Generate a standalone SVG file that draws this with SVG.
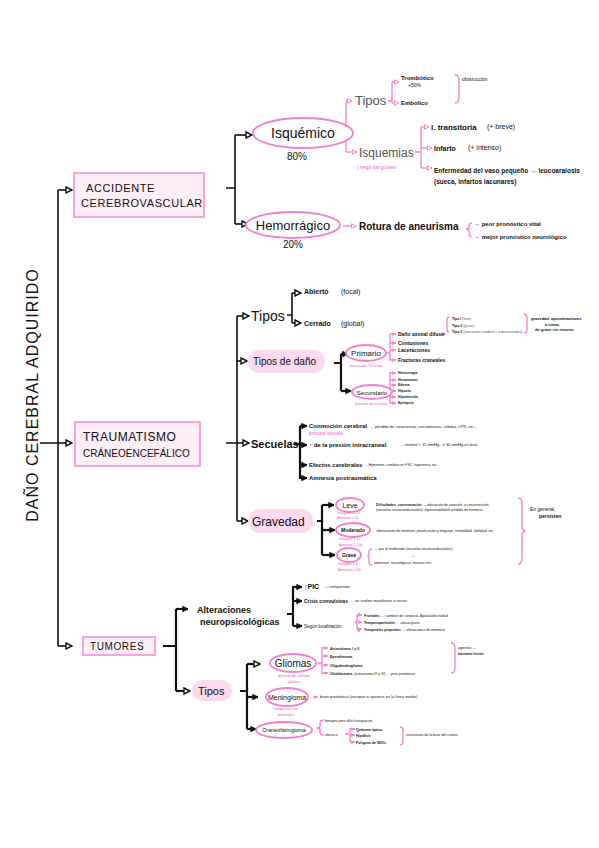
<svg xmlns="http://www.w3.org/2000/svg" width="599" height="848" viewBox="0 0 599 848">
<defs>
<marker id="ab" viewBox="0 0 8 8" refX="7" refY="4" markerWidth="8" markerHeight="8" markerUnits="userSpaceOnUse" orient="auto">
<path d="M1,1 L7,4 L1,7 z" fill="#fff" stroke="#111" stroke-width="1.4"/>
</marker>
<marker id="abf" viewBox="0 0 8 8" refX="7" refY="4" markerWidth="7" markerHeight="7" markerUnits="userSpaceOnUse" orient="auto">
<path d="M1,1 L7,4 L1,7 z" fill="#111" stroke="#111" stroke-width="1"/>
</marker>
<marker id="ap" viewBox="0 0 8 8" refX="7" refY="4" markerWidth="6" markerHeight="6" markerUnits="userSpaceOnUse" orient="auto">
<path d="M1,1 L7,4 L1,7 z" fill="#fff" stroke="#f57fcf" stroke-width="1.3"/>
</marker>
<marker id="apf" viewBox="0 0 8 8" refX="7" refY="4" markerWidth="5" markerHeight="5" markerUnits="userSpaceOnUse" orient="auto">
<path d="M1,1 L7,4 L1,7 z" fill="#f57fcf"/>
</marker>
</defs>
<style>
text{font-family:"Liberation Sans",Arial,sans-serif;fill:#111}
.box{fill:#fdeef8;stroke:#f7a6dc;stroke-width:2}
.pill{fill:#fcd9ee;stroke:none}
.ell{fill:#fff;stroke:#f57fcf;stroke-width:1.8}
.bl{fill:none;stroke:#111;stroke-width:1.6}
.bk{fill:none;stroke:#111;stroke-width:2.2}
.pk{fill:none;stroke:#f57fcf;stroke-width:1.3}
.up{font-size:11px;letter-spacing:0.6px}
.gray{fill:#555}
.pt{fill:#f057c0}
.s4{font-size:4px}
.s5{font-size:5px}
.s6{font-size:6px}
.s7{font-size:7px}
.b{font-weight:bold}
</style>

<!-- title -->
<g id="title">
<text transform="translate(38,395) rotate(-90)" text-anchor="middle" font-size="16" letter-spacing="1" fill="#222" style="font-weight:300">DAÑO CEREBRAL  ADQUIRIDO</text>
</g>

<g id="connectors">
<!-- trunk -->
<path class="bl" d="M40,443 H58 M58,190 V646"/>
<path class="bl" d="M58,190 H72" marker-end="url(#ab)"/>
<path class="bl" d="M58,443 H72" marker-end="url(#ab)"/>
<path class="bl" d="M58,646 H72" marker-end="url(#ab)"/>
<!-- ACV -->
<path class="bl" d="M226,188 H235 M235,135 V224"/>
<path class="bl" d="M235,135 H252" marker-end="url(#ab)"/>
<path class="bl" d="M235,224 H248" marker-end="url(#ab)"/>
<path class="pk" d="M340,134 H346 M346,101 V152"/>
<path class="pk" d="M346,101 H352" marker-end="url(#ap)"/>
<path class="pk" d="M346,152 H357" marker-end="url(#ap)"/>
<path class="pk" d="M388,101 H392 M392,82 V103"/>
<path class="pk" d="M392,82 H399" marker-end="url(#ap)"/>
<path class="pk" d="M392,103 H399" marker-end="url(#ap)"/>
<path class="pk" d="M455,75 Q459,75 459,80 V97 Q459,103 455,103"/>
<path class="pk" d="M415,152 H420 M421,127 V168"/>
<path class="pk" d="M421,127 H429" marker-end="url(#ap)"/>
<path class="pk" d="M421,148 H432" marker-end="url(#ap)"/>
<path class="pk" d="M421,168 H432" marker-end="url(#ap)"/>
<path class="pk" d="M343,226 H356" marker-end="url(#ap)"/>
<path class="pk" d="M472,223 Q469,223 469,227 Q469,229 466,229 Q469,229 469,232 Q469,236 472,237"/>
<!-- TCE -->
<path class="bl" d="M226,443 H237 M237,316 V521"/>
<path class="bl" d="M237,316 H249" marker-end="url(#ab)"/>
<path class="bl" d="M237,361 H247" marker-end="url(#ab)"/>
<path class="bl" d="M237,443 H249" marker-end="url(#ab)"/>
<path class="bl" d="M237,521 H248" marker-end="url(#ab)"/>
<path class="bl" d="M287,315 H292 M292,293 V323"/>
<path class="bl" d="M292,293 H301" marker-end="url(#ab)"/>
<path class="bl" d="M292,323 H301" marker-end="url(#ab)"/>
<path class="bk" d="M334,363 H341 M341,354 V391"/>
<path class="bk" d="M341,354 H348" marker-end="url(#abf)"/>
<path class="bk" d="M341,391 H351" marker-end="url(#abf)"/>
<path class="pk" d="M386,353 H390 M390,334 V361"/>
<path class="pk" d="M390,334 H396" marker-end="url(#apf)"/>
<path class="pk" d="M390,343 H396" marker-end="url(#apf)"/>
<path class="pk" d="M390,350 H396" marker-end="url(#apf)"/>
<path class="pk" d="M390,360 H396" marker-end="url(#apf)"/>
<path class="pk" d="M441,334 H446" marker-end="url(#apf)"/>
<path class="pk" d="M449,317 Q447,317 447,320 V329 Q447,332 449,332"/>
<path class="pk" d="M524,314 Q527,314 527,318 V329 Q527,333 524,333"/>
<path class="pk" d="M392,392 H390 M390,372 V404"/>
<path class="pk" d="M390,373 H396" marker-end="url(#apf)"/>
<path class="pk" d="M390,380 H396" marker-end="url(#apf)"/>
<path class="pk" d="M390,385 H396" marker-end="url(#apf)"/>
<path class="pk" d="M390,391 H396" marker-end="url(#apf)"/>
<path class="pk" d="M390,397 H396" marker-end="url(#apf)"/>
<path class="pk" d="M390,403 H396" marker-end="url(#apf)"/>
<path class="bk" d="M294,444 H300 M300,426 V479"/>
<path class="bk" d="M300,426 H307" marker-end="url(#abf)"/>
<path class="bk" d="M300,445 H307" marker-end="url(#abf)"/>
<path class="bk" d="M300,465 H307" marker-end="url(#abf)"/>
<path class="bk" d="M300,478 H307" marker-end="url(#abf)"/>
<path class="bk" d="M317,521 H322 M322,505 V555"/>
<path class="bk" d="M322,505 H334" marker-end="url(#abf)"/>
<path class="bk" d="M322,530 H335" marker-end="url(#abf)"/>
<path class="bk" d="M322,555 H335" marker-end="url(#abf)"/>
<path class="pk" d="M372,549 Q369,549 369,552 V555 Q369,556 367,556 Q369,556 369,558 V562 Q369,565 372,565"/>
<path class="pk" d="M518,498 Q522,498 522,504 V527 Q522,530 525,531 Q522,532 522,535 V558 Q522,564 518,564"/>
<!-- Tumores -->
<path class="bk" d="M163,646 H176 M176,609 V691"/>
<path class="bk" d="M176,609 H188" marker-end="url(#abf)"/>
<path class="bk" d="M176,691 H190" marker-end="url(#ab)"/>
<path class="bk" d="M287,614 H293 M293,586 V626"/>
<path class="bk" d="M293,587 H302" marker-end="url(#abf)"/>
<path class="bk" d="M293,601 H302" marker-end="url(#abf)"/>
<path class="bk" d="M293,626 H302" marker-end="url(#abf)"/>
<path class="pk" d="M360,614 Q357,614 357,617 V620 Q357,622 355,622 Q357,622 357,624 V628 Q357,631 360,631"/>
<path class="pk" d="M358,615 H362" marker-end="url(#apf)"/>
<path class="pk" d="M358,622 H362" marker-end="url(#apf)"/>
<path class="pk" d="M358,629 H362" marker-end="url(#apf)"/>
<path class="bk" d="M240,691 H247 M247,664 V729"/>
<path class="bk" d="M247,664 H260" marker-end="url(#ab)"/>
<path class="bk" d="M247,697 H258" marker-end="url(#abf)"/>
<path class="bk" d="M247,729 H256" marker-end="url(#abf)"/>
<path class="pk" d="M318,663 H322 M322,647 V674"/>
<path class="pk" d="M322,648 H328" marker-end="url(#apf)"/>
<path class="pk" d="M322,656 H328" marker-end="url(#apf)"/>
<path class="pk" d="M322,665 H328" marker-end="url(#apf)"/>
<path class="pk" d="M322,673 H328" marker-end="url(#apf)"/>
<path class="pk" d="M451,643 Q455,643 455,648 V668 Q455,673 451,673"/>
<path class="pk" d="M313,697 H318" marker-end="url(#apf)"/>
<path class="pk" d="M324,720 Q320,720 320,723 V726 Q320,728 317,728 Q320,728 320,730 V732 Q320,735 324,735"/>
<path class="pk" d="M345,734 H349 M350,728 V742"/>
<path class="pk" d="M350,729 H355" marker-end="url(#apf)"/>
<path class="pk" d="M350,735 H355" marker-end="url(#apf)"/>
<path class="pk" d="M350,742 H355" marker-end="url(#apf)"/>
<path class="pk" d="M400,727 Q403,727 403,731 V741 Q403,745 400,745"/>
</g>

<!-- ACV -->
<g id="acv">
<rect class="box" x="74" y="173" width="130" height="44"/>
<text x="86" y="192" class="up">ACCIDENTE</text>
<text x="81" y="207" class="up" letter-spacing="0">CEREBROVASCULAR</text>
</g>
<g id="isquemico">
<ellipse class="ell" cx="303" cy="133" rx="50" ry="15"/>
<text x="303" y="138" font-size="14" text-anchor="middle">Isquémico</text>
<text x="297" y="160" font-size="10" text-anchor="middle" fill="#333">80%</text>
</g>
<g id="hemorragico">
<ellipse class="ell" cx="293" cy="225" rx="47" ry="13"/>
<text x="293" y="230" font-size="13" text-anchor="middle">Hemorrágico</text>
<text x="293" y="248" font-size="10" text-anchor="middle" fill="#333">20%</text>
</g>
<g id="tipos-acv">
<text x="355" y="105" font-size="13" class="gray">Tipos</text>
<text x="401" y="80" class="s6 b">Trombótico</text>
<text x="408" y="87" class="s5">+50%</text>
<text x="401" y="105" class="s6 b">Embólico</text>
<text x="462" y="81" class="s5">obstrucción</text>
</g>
<g id="isquemias">
<text x="359" y="157" font-size="12" class="gray">Isquemias</text>
<text x="357" y="169" class="s5 pt">{ riego sanguíneo</text>
<text x="431" y="130" font-size="8" class="b">I. transitoria</text>
<text x="487" y="129" font-size="7" fill="#444">(+ breve)</text>
<text x="434" y="151" font-size="7" class="b">Infarto</text>
<text x="468" y="150" font-size="7" fill="#444">(+ intenso)</text>
<text x="434" y="173" font-size="6.5" class="b">Enfermedad del vaso pequeño → leucoaraiosis</text>
<text x="434" y="184" font-size="6.5" class="b">(sueca, infartos lacunares)</text>
</g>
<g id="rotura">
<text x="359" y="230" font-size="10" class="b">Rotura de aneurisma</text>
<text x="474" y="226" class="s6 b">→ peor pronóstico vital</text>
<text x="474" y="239" class="s6 b">→ mejor pronóstico neurológico</text>
</g>

<!-- TCE -->
<g id="tce">
<rect class="box" x="75" y="422" width="125" height="44"/>
<text x="83" y="441" font-size="12" letter-spacing="0.5">TRAUMATISMO</text>
<text x="83" y="457" font-size="10">CRÁNEOENCEFÁLICO</text>
</g>
<g id="tipos-tce">
<text x="251" y="321" font-size="14">Tipos</text>
<text x="304" y="294" font-size="7" class="b">Abierto</text>
<text x="341" y="294" font-size="7" fill="#444">(focal)</text>
<text x="304" y="326" font-size="7" class="b">Cerrado</text>
<text x="341" y="326" font-size="7" fill="#444">(global)</text>
</g>
<g id="tipos-dano">
<rect class="pill" x="248" y="350" width="77" height="23" rx="11.5"/>
<text x="253" y="365" font-size="10">Tipos de daño</text>
</g>
<g id="primario">
<ellipse class="ell" cx="366" cy="353" rx="20" ry="8"/>
<text x="366" y="356" font-size="8" text-anchor="middle">Primario</text>
<text x="350" y="367" font-size="3.5" class="pt">provocado x la lesión</text>
<text x="398" y="336" class="s5 b">Daño axonal difuso</text>
<text x="398" y="345" class="s5 b">Contusiones</text>
<text x="398" y="352" class="s5 b">Laceraciones</text>
<text x="398" y="362" class="s5 b">Fracturas craneales</text>
<text x="452" y="320" font-size="3.5" class="b">Tipo I <tspan fill="#555" style="font-weight:normal">(leve)</tspan></text>
<text x="452" y="327" font-size="3.5" class="b">Tipo 2 <tspan fill="#555" style="font-weight:normal">(grave)</tspan></text>
<text x="452" y="333" font-size="3.5" class="b">Tipo 3 <tspan fill="#555" style="font-weight:normal">(laceración cerebral + subaracnoidea)</tspan></text>
<text x="531" y="320" font-size="4" class="b">gravedad, aproximaciones</text>
<text x="545" y="326" font-size="4" class="b">a coma,</text>
<text x="535" y="331" font-size="4" class="b">de grave sin retorno.</text>
</g>
<g id="secundario">
<ellipse class="ell" cx="372" cy="392" rx="20" ry="7"/>
<text x="372" y="395" font-size="6" text-anchor="middle">Secundario</text>
<text x="355" y="405" font-size="3.5" class="pt">derivado de la lesión</text>
<text x="398" y="374" font-size="3.5" class="b">Hemorragia</text>
<text x="398" y="381" font-size="3.5" class="b">Hematomas</text>
<text x="398" y="386" font-size="3.5" class="b">Edema</text>
<text x="398" y="392" font-size="3.5" class="b">Hipoxia</text>
<text x="398" y="398" font-size="3.5" class="b">Hipotensión</text>
<text x="398" y="404" font-size="3.5" class="b">Epilepsia</text>
</g>
<g id="secuelas">
<text x="251" y="448" font-size="11" class="b">Secuelas</text>
<text x="309" y="428" font-size="6" class="b">Conmoción cerebral</text>
<text x="370" y="428" class="s4"><tspan class="pt">→</tspan> pérdida de consciencia, con amnesia, cefalea, LPR, etc...</text>
<text x="309" y="435" font-size="4.5" class="pt">principal secuela</text>
<text x="309" y="447" font-size="6" class="b">↑ de la presión intracraneal</text>
<text x="400" y="446" class="s4"><tspan class="pt">→</tspan> normal &lt; 15 mmHg , ≥ 40 mmHg es letal.</text>
<text x="309" y="467" font-size="6" class="b">Efectos cerebrales</text>
<text x="364" y="466" font-size="3.5"><tspan class="pt">→</tspan> Hiperemia, cambios en FSC, hipoxemia, etc.</text>
<text x="309" y="480" font-size="6" class="b">Amnesia postraumática</text>
</g>
<g id="gravedad">
<rect class="pill" x="248" y="509" width="65" height="24" rx="12"/>
<text x="252" y="526" font-size="12">Gravedad</text>
</g>
<g id="leve">
<ellipse class="ell" cx="350" cy="505" rx="14" ry="7"/>
<text x="350" y="508" font-size="7" text-anchor="middle">Leve</text>
<text x="337" y="514" font-size="3.5" class="pt">Glasgow 13-15</text>
<text x="337" y="519" font-size="3.5" class="pt">Amnesia &lt; 1h</text>
<text x="376" y="506" font-size="3.5"><tspan class="b">Dificultades, concentración</tspan> → afectación de atención, y concentración</text>
<text x="376" y="511" font-size="3.5">(secuelas neuroconductuales)  ,hiperirritabilidad, pérdida de memoria.</text>
</g>
<g id="moderado">
<ellipse class="ell" cx="353" cy="530" rx="17" ry="7"/>
<text x="353" y="532" font-size="5" text-anchor="middle" class="b">Moderado</text>
<text x="339" y="540" font-size="3.5" class="pt">Glasgow 9-12</text>
<text x="339" y="546" font-size="3.5" class="pt">Amnesia 1-24h</text>
<text x="372" y="532" font-size="3.5"><tspan class="pt">→</tspan> alteraciones de memoria, planificación y lenguaje, irritabilidad, labilidad, etc.</text>
</g>
<g id="grave">
<ellipse class="ell" cx="349" cy="555" rx="12" ry="7"/>
<text x="349" y="557" font-size="5" text-anchor="middle" class="b">Grave</text>
<text x="338" y="565" font-size="3.5" class="pt">Glasgow 3-8</text>
<text x="338" y="571" font-size="3.5" class="pt">Amnesia ≥ 24h</text>
<text x="374" y="550" font-size="3.5">→ que el moderado (secuelas neuroconductuales)</text>
<text x="412" y="557" font-size="4">+</text>
<text x="374" y="564" font-size="3.5">amnesias, neurológicas, mareos, etc.</text>
<text x="530" y="511" font-size="5">En general,</text>
<text x="539" y="518" font-size="5" class="b">persisten</text>
</g>

<!-- Tumores -->
<g id="tumores">
<rect class="box" x="83" y="637" width="72" height="18"/>
<text x="90" y="650" font-size="10" letter-spacing="0.6">TUMORES</text>
</g>
<g id="alteraciones">
<text x="197" y="613" font-size="9" class="b">Alteraciones</text>
<text x="200" y="625" font-size="9" class="b">neuropsicológicas</text>
<text x="304" y="589" font-size="7" class="b">↑PIC</text>
<text x="324" y="588" class="s4">→ compresión</text>
<text x="304" y="603" font-size="5" class="b">Crisis convulsivas</text>
<text x="350" y="602" class="s4"><tspan class="pt">→</tspan> se suelen manifestar a veces</text>
<text x="304" y="628" font-size="4.5" fill="#444">Según localización</text>
<text x="364" y="617" font-size="3.5"><tspan class="b">Frontales</tspan> <tspan class="pt">→</tspan> cambios de conducta, Apatía/afectividad</text>
<text x="364" y="624" font-size="3.5"><tspan class="b">Temporoparietales</tspan> <tspan class="pt">→</tspan> afasia grave</text>
<text x="364" y="631" font-size="3.5"><tspan class="b">Temporales pequeños</tspan> <tspan class="pt">→</tspan> alteraciones de memoria.</text>
</g>
<g id="tipos-tumores">
<rect class="pill" x="192" y="680" width="40" height="21" rx="10.5"/>
<text x="198" y="695" font-size="11">Tipos</text>
</g>
<g id="gliomas">
<ellipse class="ell" cx="293" cy="663" rx="23" ry="9"/>
<text x="293" y="667" font-size="10" text-anchor="middle">Gliomas</text>
<text x="294" y="677" font-size="4" class="pt" text-anchor="middle">derivan de células</text>
<text x="294" y="683" font-size="4" class="pt" text-anchor="middle">gliales</text>
<text x="330" y="650" font-size="3.5" class="b">Astrocitoma, I y II</text>
<text x="330" y="658" font-size="3.5" class="b">Ependimoma,</text>
<text x="330" y="667" font-size="3.5" class="b">Oligodendroglioma,</text>
<text x="330" y="675" font-size="3.5"><tspan class="b">Glioblastoma,</tspan> (astrocitoma III y IV) <tspan class="pt">→</tspan> peor pronóstico</text>
<text x="458" y="649" font-size="3.5">agresivo →</text>
<text x="458" y="655" font-size="3.5" class="b">bastante lesión</text>
</g>
<g id="meningioma">
<ellipse class="ell" cx="287" cy="697" rx="21" ry="9"/>
<text x="287" y="700" font-size="7" text-anchor="middle">Meningioma</text>
<text x="286" y="710" font-size="4" class="pt" text-anchor="middle">origen en las</text>
<text x="286" y="716" font-size="4" class="pt" text-anchor="middle">meninges</text>
<text x="320" y="698" font-size="4">buen pronóstico (excepto si aparece en la línea media)</text>
</g>
<g id="craneofaringioma">
<ellipse class="ell" cx="284" cy="730" rx="28" ry="8"/>
<text x="284" y="732" font-size="5.5" text-anchor="middle">Craneofaringioma</text>
<text x="325" y="722" font-size="3.5">benigno pero difícil extirpación</text>
<text x="325" y="736" font-size="3.5">afecta a:</text>
<text x="356" y="731" font-size="3.5" class="b">Quiasma óptico</text>
<text x="356" y="737" font-size="3.5" class="b">Hipófisis</text>
<text x="356" y="744" font-size="3.5" class="b">Polígono de Willis</text>
<text x="406" y="736" font-size="3.5">estructuras de la base del cráneo</text>
</g>
</svg>
